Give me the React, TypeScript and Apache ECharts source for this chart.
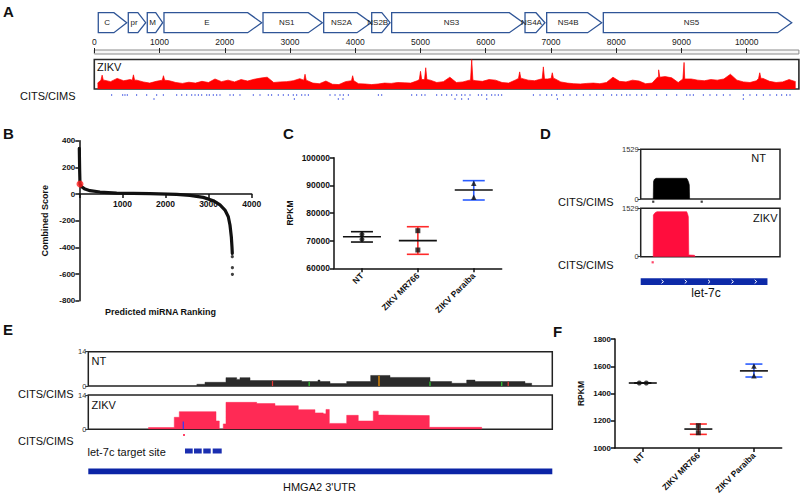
import React, { useEffect, useRef } from 'react';
import * as echarts from 'echarts';

const FONT = '"Liberation Sans", Arial, Helvetica, sans-serif';
const plain = (v: number) => String(v);

// ---------- Panel A ----------
const genomeMax = 10800;
const geneNames = ['C', 'pr', 'M', 'E', 'NS1', 'NS2A', 'NS2B', 'NS3', 'NS4A', 'NS4B', 'NS5'];
const geneStart = [61, 521, 812, 1068, 2586, 3516, 4252, 4558, 6602, 6934, 7802];
const geneEnd = [497, 788, 1048, 2566, 3495, 4241, 4533, 6576, 6908, 7777, 10690];
const rulerTicks = [0, 1000, 2000, 3000, 4000, 5000, 6000, 7000, 8000, 9000, 10000];
// coverage per 100-nt bin (percent of track height)
const covVal = [
  20, 30, 25, 36, 28, 32, 30, 24, 20, 26,
  30, 28, 22, 19, 23, 20, 26, 22, 34, 25,
  30, 24, 32, 27, 33, 37, 40, 22, 24, 25,
  28, 35, 30, 20, 18, 27, 16, 15, 25, 28,
  18, 17, 15, 17, 20, 19, 22, 21, 20, 28,
  32, 30, 22, 25, 40, 22, 24, 30, 28, 26,
  32, 30, 22, 20, 30, 36, 30, 28, 34, 34,
  36, 24, 20, 18, 17, 19, 20, 18, 22, 40,
  26, 24, 30, 27, 18, 20, 40, 42, 38, 22,
  34, 34, 30, 28, 32, 30, 34, 50, 30, 24,
  22, 28, 36, 26, 22, 24, 32, 25,
];
// narrow coverage peaks (position, percent of track height)
const spikePos = [120, 600, 1060, 3230, 3960, 5000, 5080, 5785, 6520, 6883, 7020, 8650, 9040, 10200];
const spikeVal = [47, 48, 45, 50, 45, 60, 72, 100, 58, 75, 55, 65, 90, 55];
const citsRow1 = [
  266, 435, 470, 506, 649, 803, 956, 1058, 1263, 1340, 1416, 1493, 1544, 1595, 1646, 1723, 1763, 1824,
  1876, 1927, 2080, 2131, 2233, 2437, 2540, 2667, 2718, 2820, 2897, 2974, 3050, 3102, 3179, 3230, 3281,
  3613, 3690, 3766, 3817, 3894, 4354, 4405, 4865, 4941, 5018, 5069, 5248, 5325, 5401, 5478, 5555, 5631,
  5682, 5759, 5887, 5938, 6015, 6091, 6142, 6193, 6244, 6730, 6832, 6934, 7011, 7087, 7190, 7292, 7394,
  7496, 7598, 7700, 7803, 7930, 8007, 8083, 8160, 8211, 8314, 8390, 8467, 8620, 8773, 8927, 9080, 9131,
  9182, 9335, 9437, 9540, 9642, 9744, 9948, 10050, 10152, 10255, 10357, 10459, 10536, 10612, 10664,
];
const citsRow2 = [915, 3066, 3740, 3812, 5529, 5631, 5733, 6015, 7098, 9948];

// ---------- Panel B ----------
const bRank = [0, 8, 16, 55, 132, 248, 480, 867, 1640, 2258, 2567, 2877, 3109, 3264, 3380, 3457, 3496, 3527, 3542, 3550];
const bScore = [342, 180, 75, 55, 37, 25, 15, 7.5, 2.5, -2.5, -10, -25, -50, -82, -120, -170, -232, -320, -395, -445];
const bTailRank = [3550, 3552, 3552];
const bTailScore = [-470, -552, -602];
const bTop = [16, 75];

// ---------- Panel C ----------
const cCats = ['NT', 'ZIKV MR766', 'ZIKV Paraiba'];
const cMean = [71430, 70000, 88300];
const cLow = [69500, 65060, 84700];
const cHigh = [73240, 75040, 91700];
const cPtsNT = [72300, 70490];
const cPtsMR = [73600, 66620];
const cPtsPa = [90740, 85680];

// ---------- Panel D ----------
const dNtX = [9.0, 9.2, 9.8, 11.0, 33.0, 33.5, 34.3, 34.9, 35.1];
const dNtY = [0, 540, 600, 637, 637, 606, 532, 431, 0];
const dZkX = [9.0, 9.1, 10.3, 11.7, 33.0, 33.6, 34.2, 34.5, 38.6, 39.0];
const dZkY = [0, 1316, 1390, 1421, 1421, 1360, 1264, 55, 45, 0];
const dCitsNt = [9.0, 43.8];
const dCitsZk = [8.6];
const dGene = [0, 91];
const dChevrons = [15.8, 32.5, 49.2, 66.0, 82.7];

// ---------- Panel E ----------
const eNtX = [233.6, 251.5, 296.7, 319.8, 326.9, 348.5, 459.9, 495, 499.3, 520.9, 556.9, 608.6, 650.2, 736.4, 783.1, 815.5, 833.4, 941.1, 955.5];
const eNtY = [0.7, 1.5, 3.4, 2.7, 3.4, 2.2, 1.8, 2.4, 1.8, 1.0, 1.8, 4.3, 3.5, 1.8, 1.1, 2.4, 1.8, 1.1, 0];
const eZkX = [129.3, 185.3, 196.1, 275.2, 282.3, 290.9, 296.7, 362.9, 402.3, 452.6, 488.5, 506.4, 512.2, 519.4, 556.9, 581.8, 614.2, 625.0, 630.1, 734.9, 847.8];
const eZkY = [0.7, 4.9, 7.2, 3.4, 0, 2.2, 11, 10.5, 9.6, 8.0, 6.7, 6.3, 8.1, 2.4, 5.7, 3.4, 7.4, 5.8, 5.6, 0.8, 0];
const eNtMarkPos = [397, 476, 626.5, 736.4, 891, 905];
const eNtMarkH = [2.2, 1.8, 4.3, 1.8, 1.8, 1.8];
const eNtMarkColor = ['#e53935', '#33cc33', '#ff9900', '#33cc33', '#33cc33', '#e53935'];
const eZkMarkPos = [204.7];
const eZkMarkH = [3.2];
const eCitsZk = [206.2];
const eSite = [[208.4, 225.0], [227.8, 244.4], [247.8, 263.8], [268.1, 287.5]];
const eUtr = [0, 1000];

// ---------- Panel F ----------
const fMean = [1477, 1139, 1566];
const fLow = [1477, 1100, 1521];
const fHigh = [1477, 1176, 1616];
const fPtsNT = [1477, 1477];
const fPtsMR = [1164, 1112];
const fPtsPa = [1602, 1531];

// ---------- helpers ----------
const hx = (gi: number, min: number, max: number) => ({ type: 'value', gridIndex: gi, min, max, show: false });
const grid = (left: number, top: number, width: number, height: number, box = false, extra: any = {}) => ({
  left, top, width, height, containLabel: false, outerBoundsMode: 'none',
  show: box, borderColor: '#222', borderWidth: box ? 1.5 : 0, backgroundColor: 'transparent', ...extra,
});
const txt = (text: string, x: number, y: number, o: any = {}) => {
  const { align = 'left', size = 11, weight = 'normal', color = '#111', rotation = 0 } = o;
  return {
    type: 'text', x, y, rotation, z: 100,
    style: {
      text, fontSize: size, fontWeight: weight, fontFamily: FONT, fill: color,
      align, verticalAlign: 'middle', textAlign: align, textVerticalAlign: 'middle',
    },
  };
};

// coverage points: bins plus narrow peaks (peak base taken from the bin it sits in)
const covData = (() => {
  const pts: number[][] = covVal.map((v, i) => [i * 100 + 50, v]);
  spikePos.forEach((p, k) => {
    const base = covVal[Math.min(covVal.length - 1, Math.floor(p / 100))];
    pts.push([p - 18, base], [p, spikeVal[k]], [p + 18, base]);
  });
  return pts.sort((a, b) => a[0] - b[0]);
})();

const errRender = (capW: number, meanW: number, colors: string[]) => (params: any, api: any) => {
  const ci = api.value(0);
  const pm = api.coord([ci, api.value(1)]);
  const pl = api.coord([ci, api.value(2)]);
  const ph = api.coord([ci, api.value(3)]);
  const x = pm[0];
  const col = colors[params.dataIndex];
  const ln = (x1: number, y1: number, x2: number, y2: number, c: string) => ({
    type: 'line', shape: { x1, y1, x2, y2 }, style: { stroke: c, lineWidth: 1.6 },
  });
  return {
    type: 'group',
    children: [
      ln(x, pl[1], x, ph[1], col),
      ln(x - capW / 2, pl[1], x + capW / 2, pl[1], col),
      ln(x - capW / 2, ph[1], x + capW / 2, ph[1], col),
      ln(x - meanW / 2, pm[1], x + meanW / 2, pm[1], '#111'),
    ],
  };
};

const intervalRender = (color: string) => (params: any, api: any) => {
  const p0 = api.coord([api.value(0), 1]);
  const p1 = api.coord([api.value(1), 0]);
  return { type: 'rect', shape: { x: p0[0], y: p0[1], width: p1[0] - p0[0], height: p1[1] - p0[1] }, style: { fill: color } };
};

const dotAxisStyle = {
  axisLine: { show: true, onZero: false, lineStyle: { color: '#111', width: 1.5 } },
  axisTick: { show: true, length: 4, lineStyle: { color: '#111', width: 1.5 } },
  splitLine: { show: false },
};

const catX = (gi: number) => ({
  type: 'category', gridIndex: gi, data: cCats, boundaryGap: true,
  ...dotAxisStyle,
  axisTick: { show: true, length: 4, alignWithLabel: true, lineStyle: { color: '#111', width: 1.5 } },
  axisLabel: { rotate: 45, fontSize: 8.5, fontWeight: 'bold', color: '#111', fontFamily: FONT, margin: 6, interval: 0 },
});

const trackY = (gi: number, max: number) => ({
  type: 'value', gridIndex: gi, min: 0, max, interval: max,
  axisLine: { show: false },
  axisTick: { show: true, length: 3, lineStyle: { color: '#333', width: 1 } },
  axisLabel: { fontSize: 7.5, color: '#333', fontFamily: FONT, margin: 2, formatter: plain },
  splitLine: { show: false },
});

const pts = (xi: number, yi: number, cat: number, vals: number[], symbol: string, size: number, offsets?: number[]) => ({
  type: 'scatter', xAxisIndex: xi, yAxisIndex: yi, symbol, symbolSize: size, z: 5,
  itemStyle: { color: '#111' },
  data: vals.map((v, i) => (offsets ? { value: [cat, v], symbolOffset: [offsets[i], 0] } : [cat, v])),
});

// B panel layout: zero line of the score axis
const B_TOP = 140.7, B_H = 160, B_MIN = -800, B_MAX = 400;
const bZeroOffset = -(B_H * (0 - B_MIN)) / (B_MAX - B_MIN);

const option: any = {
  animation: false,
  backgroundColor: '#fff',
  grid: [
    grid(94.3, 12.7, 704.6, 20), // 0 genes
    grid(94.3, 50, 704.6, 4, true, { borderColor: '#8a8a8a', borderWidth: 1, backgroundColor: '#f6f6f6' }), // 1 ruler
    grid(94.3, 59.5, 704.6, 29.5, true, { borderColor: '#2a2a2a', borderWidth: 1.6 }), // 2 coverage
    grid(94.3, 93, 704.6, 8), // 3 cits
    grid(79.3, B_TOP, 172.4, B_H), // 4 B
    grid(334, 157.7, 167.7, 110.6), // 5 C
    grid(640.7, 149.3, 139.3, 49.7, true), // 6 D NT
    grid(640.7, 208.3, 139.3, 48.4, true), // 7 D ZIKV
    grid(640.7, 200, 139.3, 3.4), // 8 D cits NT
    grid(640.7, 260.6, 139.3, 3.4), // 9 D cits ZIKV
    grid(640.7, 278.3, 139.3, 6.7), // 10 D gene
    grid(88.3, 351.7, 464, 34.3, true), // 11 E NT
    grid(88.3, 395, 464, 34.3, true), // 12 E ZIKV
    grid(88.3, 433.5, 464, 3), // 13 E cits
    grid(88.3, 448.5, 464, 5), // 14 E site
    grid(88.3, 468.6, 464, 5.7), // 15 E UTR
    grid(615, 339, 166.7, 109), // 16 F
  ],
  xAxis: [
    hx(0, 0, genomeMax),
    {
      type: 'value', gridIndex: 1, min: 0, max: genomeMax, position: 'top', offset: -3,
      axisLine: { show: false },
      axisTick: { show: true, length: 5, customValues: rulerTicks, lineStyle: { color: '#222', width: 1 } },
      axisLabel: { customValues: rulerTicks, fontSize: 8.5, color: '#222', fontFamily: FONT, margin: 7, formatter: plain },
      splitLine: { show: false },
    },
    hx(2, 0, genomeMax),
    hx(3, 0, genomeMax),
    {
      type: 'value', gridIndex: 4, min: 0, max: 4000, interval: 1000, position: 'bottom', offset: bZeroOffset,
      ...dotAxisStyle,
      axisLabel: { fontSize: 8.5, fontWeight: 'bold', color: '#111', fontFamily: FONT, margin: 5, formatter: (v: number) => (v === 0 ? '' : String(v)) },
    },
    catX(5),
    hx(6, 0, 100), hx(7, 0, 100), hx(8, 0, 100), hx(9, 0, 100), hx(10, 0, 100),
    hx(11, 0, 1000), hx(12, 0, 1000), hx(13, 0, 1000), hx(14, 0, 1000), hx(15, 0, 1000),
    catX(16),
  ],
  yAxis: [
    hx(0, 0, 1),
    hx(1, 0, 1),
    hx(2, 0, 100),
    hx(3, -0.5, 1.5),
    {
      type: 'value', gridIndex: 4, min: B_MIN, max: B_MAX, interval: 200,
      ...dotAxisStyle,
      axisLabel: { fontSize: 8, fontWeight: 'bold', color: '#111', fontFamily: FONT, margin: 4, formatter: plain },
      name: 'Combined Score', nameLocation: 'middle', nameGap: 30,
      nameTextStyle: { fontSize: 9, fontWeight: 'bold', color: '#111', fontFamily: FONT },
    },
    {
      type: 'value', gridIndex: 5, min: 60000, max: 100000, interval: 10000,
      ...dotAxisStyle,
      axisLabel: { fontSize: 8.5, fontWeight: 'bold', color: '#111', fontFamily: FONT, margin: 4, formatter: plain },
      name: 'RPKM', nameLocation: 'middle', nameGap: 40,
      nameTextStyle: { fontSize: 8.5, fontWeight: 'bold', color: '#111', fontFamily: FONT },
    },
    trackY(6, 1529), trackY(7, 1529),
    hx(8, 0, 1), hx(9, 0, 1), hx(10, 0, 1),
    trackY(11, 14), trackY(12, 14),
    hx(13, 0, 1), hx(14, 0, 1), hx(15, 0, 1),
    {
      type: 'value', gridIndex: 16, min: 1000, max: 1800, interval: 200,
      ...dotAxisStyle,
      axisLabel: { fontSize: 8, fontWeight: 'bold', color: '#111', fontFamily: FONT, margin: 4, formatter: plain },
      name: 'RPKM', nameLocation: 'middle', nameGap: 30,
      nameTextStyle: { fontSize: 8.5, fontWeight: 'bold', color: '#111', fontFamily: FONT },
    },
  ],
  series: [
    // A genes
    {
      type: 'custom', xAxisIndex: 0, yAxisIndex: 0,
      data: geneStart.map((s, i) => [s, geneEnd[i]]),
      renderItem: (params: any, api: any) => {
        const p0 = api.coord([api.value(0), 1]);
        const p1 = api.coord([api.value(1), 0]);
        const x0 = p0[0], x1 = p1[0], yT = p0[1], yB = p1[1];
        const w = x1 - x0;
        const tip = Math.min(14, w * 0.45);
        const ym = (yT + yB) / 2;
        return {
          type: 'group',
          children: [
            { type: 'polygon', shape: { points: [[x0, yT], [x1 - tip, yT], [x1, ym], [x1 - tip, yB], [x0, yB]] }, style: { fill: '#fff', stroke: '#2f5597', lineWidth: 1.3 } },
            { type: 'text', style: { text: geneNames[params.dataIndex], x: x0 + (w - tip) / 2 + 1, y: ym, align: 'center', verticalAlign: 'middle', fontSize: 8, fontFamily: FONT, fill: '#222' } },
          ],
        };
      },
    },
    // A coverage
    {
      type: 'line', xAxisIndex: 2, yAxisIndex: 2, symbol: 'none', silent: true,
      data: covData,
      lineStyle: { color: '#ff0000', width: 0.7 },
      areaStyle: { color: '#ff0000', opacity: 1 },
    },
    // A CITS
    {
      type: 'scatter', xAxisIndex: 3, yAxisIndex: 3, symbol: 'rect', symbolSize: [1, 2.2], silent: true,
      itemStyle: { color: '#3a4fe0' },
      data: citsRow1.map((p) => [p, 1]).concat(citsRow2.map((p) => [p, 0])),
    },
    // B
    {
      type: 'line', xAxisIndex: 4, yAxisIndex: 4, symbol: 'none', z: 3,
      data: bRank.map((r, i) => [r, bScore[i]]),
      lineStyle: { color: '#111', width: 3.2, join: 'round', cap: 'round' },
    },
    {
      type: 'scatter', xAxisIndex: 4, yAxisIndex: 4, symbol: 'circle', symbolSize: 3.2, z: 3,
      itemStyle: { color: '#111' },
      data: bTailRank.map((r, i) => [r, bTailScore[i]]),
    },
    {
      type: 'scatter', xAxisIndex: 4, yAxisIndex: 4, symbol: 'circle', symbolSize: 7, z: 4,
      itemStyle: { color: '#ff2020' },
      data: [bTop],
    },
    // C
    {
      type: 'custom', xAxisIndex: 5, yAxisIndex: 5, z: 4,
      data: cMean.map((m, i) => [i, m, cLow[i], cHigh[i]]),
      renderItem: errRender(22, 38, ['#111', '#ff2a2a', '#2a5cff']),
    },
    pts(5, 5, 0, cPtsNT, 'circle', 5),
    pts(5, 5, 1, cPtsMR, 'rect', 5),
    pts(5, 5, 2, cPtsPa, 'triangle', 5.5),
    // D
    {
      type: 'line', xAxisIndex: 6, yAxisIndex: 6, symbol: 'none', silent: true,
      data: dNtX.map((x, i) => [x, dNtY[i]]),
      lineStyle: { color: '#000', width: 0.6 }, areaStyle: { color: '#000', opacity: 1 },
    },
    {
      type: 'line', xAxisIndex: 7, yAxisIndex: 7, symbol: 'none', silent: true,
      data: dZkX.map((x, i) => [x, dZkY[i]]),
      lineStyle: { color: '#ff0d3d', width: 0.6 }, areaStyle: { color: '#ff0d3d', opacity: 1 },
    },
    {
      type: 'scatter', xAxisIndex: 8, yAxisIndex: 8, symbol: 'rect', symbolSize: 2.2, silent: true,
      itemStyle: { color: '#111' }, data: dCitsNt.map((p) => [p, 0.5]),
    },
    {
      type: 'scatter', xAxisIndex: 9, yAxisIndex: 9, symbol: 'rect', symbolSize: 2.2, silent: true,
      itemStyle: { color: '#ff1744' }, data: dCitsZk.map((p) => [p, 0.5]),
    },
    {
      type: 'custom', xAxisIndex: 10, yAxisIndex: 10, data: [dGene],
      renderItem: (params: any, api: any) => {
        const p0 = api.coord([api.value(0), 1]);
        const p1 = api.coord([api.value(1), 0]);
        const ym = (p0[1] + p1[1]) / 2;
        const ch = dChevrons.map((c) => {
          const x = api.coord([c, 0])[0];
          return { type: 'polyline', shape: { points: [[x - 1.2, ym - 1.8], [x + 0.8, ym], [x - 1.2, ym + 1.8]] }, style: { stroke: '#fff', lineWidth: 1, fill: null } };
        });
        return {
          type: 'group',
          children: [{ type: 'rect', shape: { x: p0[0], y: p0[1], width: p1[0] - p0[0], height: p1[1] - p0[1] }, style: { fill: '#0d2aa8' } }, ...ch],
        };
      },
    },
    // E
    {
      type: 'line', xAxisIndex: 11, yAxisIndex: 11, symbol: 'none', silent: true, step: 'end',
      data: eNtX.map((x, i) => [x, eNtY[i]]),
      lineStyle: { color: '#2b2b2b', width: 0.5 }, areaStyle: { color: '#2b2b2b', opacity: 1 },
    },
    {
      type: 'custom', xAxisIndex: 11, yAxisIndex: 11, silent: true, z: 3,
      data: eNtMarkPos.map((p, i) => [p, eNtMarkH[i]]),
      renderItem: (params: any, api: any) => {
        const a = api.coord([api.value(0), 0]);
        const b = api.coord([api.value(0), api.value(1)]);
        return { type: 'line', shape: { x1: a[0], y1: a[1], x2: b[0], y2: b[1] }, style: { stroke: eNtMarkColor[params.dataIndex], lineWidth: 1.2 } };
      },
    },
    {
      type: 'line', xAxisIndex: 12, yAxisIndex: 12, symbol: 'none', silent: true, step: 'end',
      data: eZkX.map((x, i) => [x, eZkY[i]]),
      lineStyle: { color: '#ff2a55', width: 0.5 }, areaStyle: { color: '#ff2a55', opacity: 1 },
    },
    {
      type: 'custom', xAxisIndex: 12, yAxisIndex: 12, silent: true, z: 3,
      data: eZkMarkPos.map((p, i) => [p, eZkMarkH[i]]),
      renderItem: (params: any, api: any) => {
        const a = api.coord([api.value(0), 0]);
        const b = api.coord([api.value(0), api.value(1)]);
        return { type: 'line', shape: { x1: a[0], y1: a[1], x2: b[0], y2: b[1] }, style: { stroke: '#2a3cff', lineWidth: 1.2 } };
      },
    },
    {
      type: 'scatter', xAxisIndex: 13, yAxisIndex: 13, symbol: 'rect', symbolSize: 2, silent: true,
      itemStyle: { color: '#ff1744' }, data: eCitsZk.map((p) => [p, 0.5]),
    },
    { type: 'custom', xAxisIndex: 14, yAxisIndex: 14, data: eSite, renderItem: intervalRender('#1a2eb0') },
    { type: 'custom', xAxisIndex: 15, yAxisIndex: 15, data: [eUtr], renderItem: intervalRender('#0b24a6') },
    // F
    {
      type: 'custom', xAxisIndex: 16, yAxisIndex: 16, z: 4,
      data: fMean.map((m, i) => [i, m, fLow[i], fHigh[i]]),
      renderItem: errRender(17, 28, ['#111', '#ff2a2a', '#2a5cff']),
    },
    pts(16, 16, 0, fPtsNT, 'circle', 5, [-3.5, 3.5]),
    pts(16, 16, 1, fPtsMR, 'rect', 5),
    pts(16, 16, 2, fPtsPa, 'triangle', 5.5),
  ],
  graphic: [
    txt('A', 3, 11, { size: 15, weight: 'bold' }),
    txt('B', 3, 133, { size: 15, weight: 'bold' }),
    txt('C', 283, 133, { size: 15, weight: 'bold' }),
    txt('D', 540, 133, { size: 15, weight: 'bold' }),
    txt('E', 3, 329, { size: 15, weight: 'bold' }),
    txt('F', 553, 331, { size: 15, weight: 'bold' }),
    txt('ZIKV', 97, 67, { size: 11 }),
    txt('CITS/CIMS', 20, 96, { size: 11 }),
    txt('Predicted miRNA Ranking', 160.5, 312, { size: 9, weight: 'bold', align: 'center' }),
    txt('NT', 766, 158, { size: 11, align: 'right' }),
    txt('ZIKV', 777.5, 217.5, { size: 11, align: 'right' }),
    txt('CITS/CIMS', 558, 202, { size: 11 }),
    txt('CITS/CIMS', 558, 264.5, { size: 11 }),
    txt('let-7c', 706, 293, { size: 12, align: 'center' }),
    txt('NT', 91.5, 361, { size: 11 }),
    txt('ZIKV', 91.5, 404.5, { size: 11 }),
    txt('CITS/CIMS', 18, 394, { size: 11 }),
    txt('CITS/CIMS', 18, 441, { size: 11 }),
    txt('let-7c target site', 87.5, 452, { size: 11 }),
    txt('HMGA2 3\'UTR', 319.5, 486.5, { size: 11, align: 'center' }),
  ],
};

export default function App() {
  const ref = useRef<HTMLDivElement>(null);
  useEffect(() => {
    if (!ref.current) return;
    const chart = echarts.init(ref.current, null, { renderer: 'svg' });
    chart.setOption(option);
    return () => chart.dispose();
  }, []);
  return <div ref={ref} style={{ position: 'fixed', left: 0, top: 0, width: 800, height: 496, background: '#fff' }} />;
}
